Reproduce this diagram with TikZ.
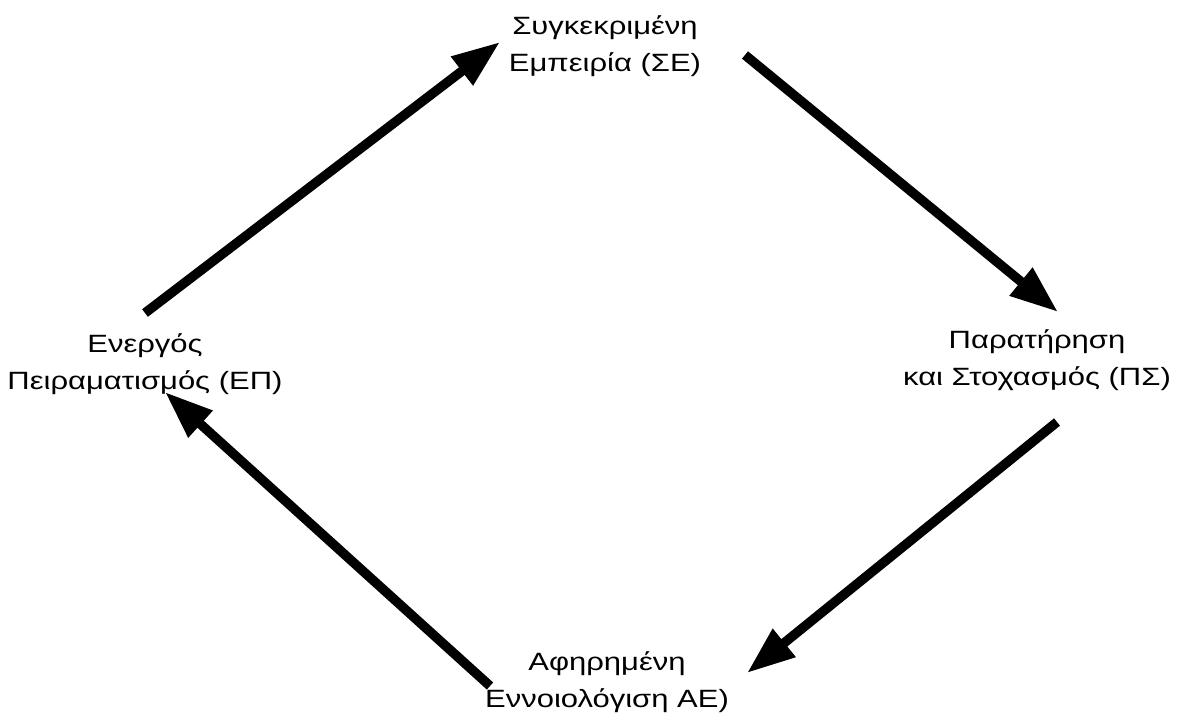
\documentclass[tikz,border=0pt]{standalone}
\usepackage{fontspec}
\setmainfont{Liberation Sans}[FakeStretch=1.24]
\usetikzlibrary{arrows.meta}
\begin{document}
\begin{tikzpicture}[x=1pt,y=-1pt,
  lbl/.style={align=center,inner sep=0pt,font=\fontsize{25}{37}\selectfont},
  arr/.style={line width=9.5pt,-{Triangle[length=48pt,width=34pt]}}]
\useasboundingbox (0,0) rectangle (1190,713);
\node[lbl] (se) at (605,46) {Συγκεκριμένη\\Εμπειρία (ΣΕ)};
\node[lbl] (ep) at (145,364) {Ενεργός\\Πειραματισμός (ΕΠ)};
\node[lbl] (ps) at (1037,360) {Παρατήρηση\\και Στοχασμός (ΠΣ)};
\node[lbl] (ae) at (607,682) {Αφηρημένη\\Εννοιολόγιση ΑΕ)};
\coordinate (a1s) at (145,313); \coordinate (a1e) at (500,42);
\coordinate (a2s) at (745,55);  \coordinate (a2e) at (1058,312);
\coordinate (a3s) at (1057,422); \coordinate (a3e) at (747,673);
\coordinate (a4s) at (490,686); \coordinate (a4e) at (165,392);
\draw[arr] (a1s) -- (a1e);
\draw[arr] (a2s) -- (a2e);
\draw[arr] (a3s) -- (a3e);
\draw[arr] (a4s) -- (a4e);
\end{tikzpicture}
\end{document}
